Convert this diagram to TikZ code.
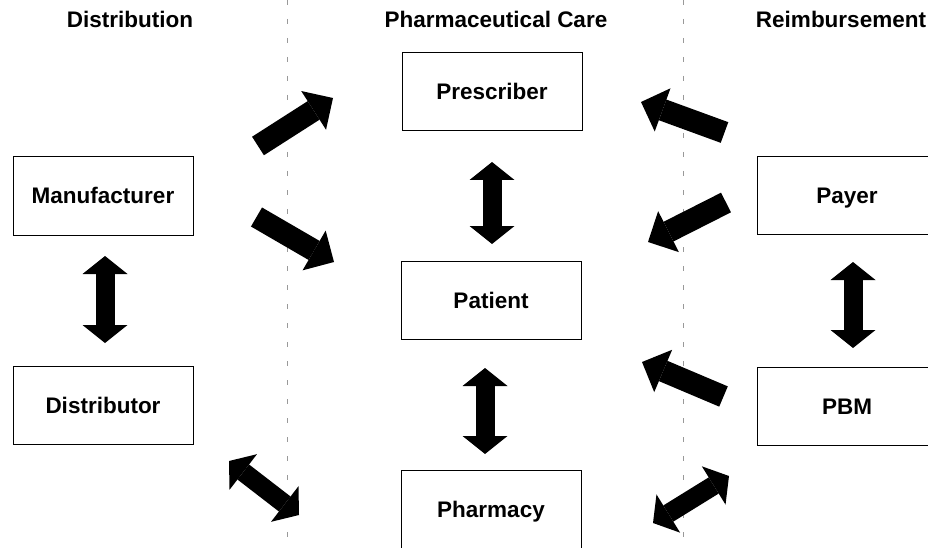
\documentclass[tikz,border=0pt]{standalone}
\usepackage{fontspec}
\setmainfont{Liberation Sans}
\usetikzlibrary{arrows.meta}
\tikzset{
  box/.style={draw=black,line width=1pt,minimum width=180pt,minimum height=78pt,inner sep=0pt,
    text height=16pt,text depth=0pt,font=\bfseries\fontsize{22.5}{27}\selectfont},
  header/.style={anchor=base,inner sep=0pt,font=\bfseries\fontsize{22.5}{27}\selectfont},
  onearrow/.style={line width=22pt,-{Triangle[length=23pt,width=46pt,line width=0pt]}},
  twoarrow/.style={line width=19pt,
    {Triangle[length=18pt,width=45pt,line width=0pt]}-{Triangle[length=18pt,width=45pt,line width=0pt]}},
  divider/.style={black!40,line width=0.5pt,dash pattern=on 5pt off 14pt}
}
\begin{document}
\begin{tikzpicture}[x=1pt,y=-1pt]
\useasboundingbox (0,0) rectangle (928,548);
\clip (0,0) rectangle (928,548);
% Dividers
\coordinate (dl-top) at (287,0);
\coordinate (dl-bot) at (287,548);
\coordinate (dr-top) at (683,0);
\coordinate (dr-bot) at (683,548);
\draw[divider] (dl-top) -- (dl-bot); % left divider
\draw[divider] (dr-top) -- (dr-bot); % right divider
% Headers
\node[header] (distribution) at (130,28) {Distribution};
\node[header] (care) at (496,28) {Pharmaceutical Care};
\node[header] (reimb) at (841,28) {Reimbursement};
% Boxes
\node[box] (manufacturer) at (103,196) {Manufacturer};
\node[box] (distributor) at (103,405) {Distributor};
\node[box] (prescriber) at (492,92) {Prescriber};
\node[box] (patient) at (491,300.5) {Patient};
\node[box] (pharmacy) at (491,509) {Pharmacy};
\node[box] (payer) at (847,195.5) {Payer};
\node[box] (pbm) at (847,406) {PBM};
% Arrow ends
\coordinate (m2pr-a) at (258,146);   \coordinate (m2pr-b) at (333,98);
\coordinate (m2pa-a) at (256.5,217); \coordinate (m2pa-b) at (334,262);
\coordinate (py2pr-a) at (724.5,132.5); \coordinate (py2pr-b) at (641,102);
\coordinate (py2pa-a) at (726,202.5); \coordinate (py2pa-b) at (648,242);
\coordinate (pb2pa-a) at (723.5,396.5); \coordinate (pb2pa-b) at (642,362);
\coordinate (pb2ph-a) at (729,476);  \coordinate (pb2ph-b) at (653,523);
\coordinate (d2ph-a) at (229,461);   \coordinate (d2ph-b) at (299,515);
\coordinate (m2d-a) at (105,256);    \coordinate (m2d-b) at (105,343);
\coordinate (py2pb-a) at (853,262);  \coordinate (py2pb-b) at (853,348);
\coordinate (pr2pa-a) at (492,162);  \coordinate (pr2pa-b) at (492,244);
\coordinate (pa2ph-a) at (485,368);  \coordinate (pa2ph-b) at (485,454);
% Arrows
\draw[onearrow] (m2pr-a) -- (m2pr-b);
\draw[onearrow] (m2pa-a) -- (m2pa-b);
\draw[onearrow] (py2pr-a) -- (py2pr-b);
\draw[onearrow] (py2pa-a) -- (py2pa-b);
\draw[onearrow] (pb2pa-a) -- (pb2pa-b);
\draw[twoarrow] (pb2ph-a) -- (pb2ph-b);
\draw[twoarrow] (d2ph-a) -- (d2ph-b);
\draw[twoarrow] (m2d-a) -- (m2d-b);
\draw[twoarrow] (py2pb-a) -- (py2pb-b);
\draw[twoarrow] (pr2pa-a) -- (pr2pa-b);
\draw[twoarrow] (pa2ph-a) -- (pa2ph-b);
\end{tikzpicture}
\end{document}
